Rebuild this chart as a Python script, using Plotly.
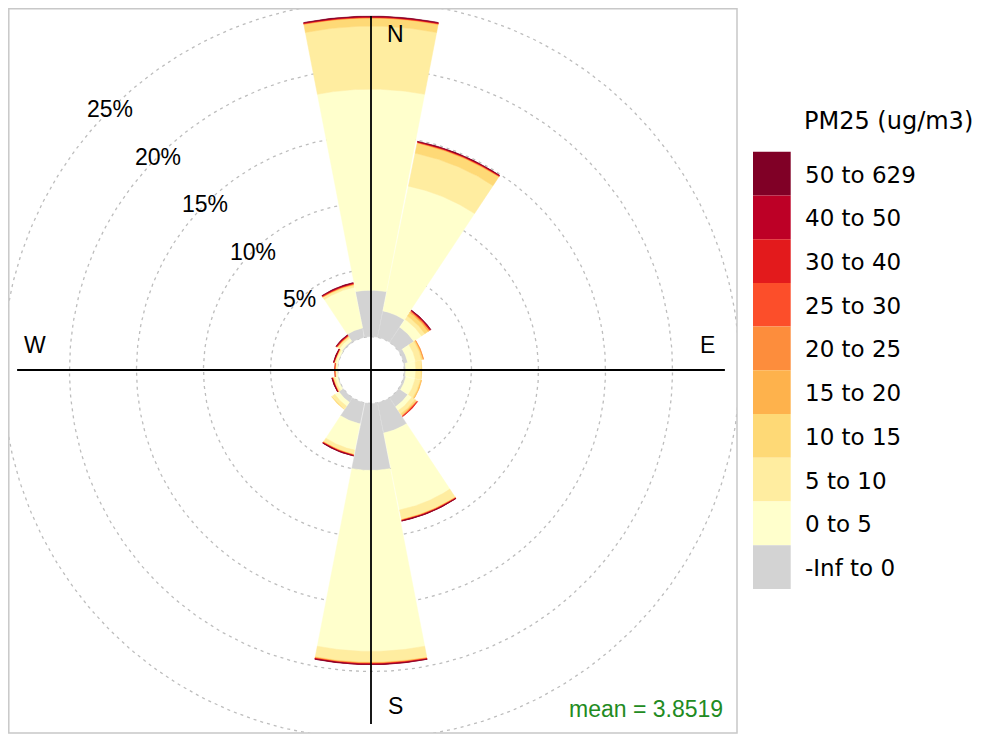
import numpy as np
import plotly.graph_objects as go

# ---------------- data ----------------
directions = [0, 22.5, 45, 67.5, 90, 112.5, 135, 157.5, 180, 202.5, 225, 247.5, 270, 292.5, 315, 337.5]
bin_labels = ["-Inf to 0", "0 to 5", "5 to 10", "10 to 15", "15 to 20", "20 to 25",
              "25 to 30", "30 to 40", "40 to 50", "50 to 629"]
bin_colors = ["#D3D3D3", "#FFFFCC", "#FFEDA0", "#FED976", "#FEB24C", "#FD8D3C",
              "#FC4E2A", "#E31A1C", "#BD0026", "#800026"]

# frequency (%) per direction (N, NNE, ..., NNW) for each concentration bin
freq_neg   = [3.46, 2.00, 1.35, 0.30, 0.10, 0.15, 0.80, 2.30, 5.00, 1.60, 0.40, 0.05, 0.02, 0.03, 0.10, 0.70]
freq_0_5   = [15.0, 9.50, 0.70, 0.60, 0.75, 0.70, 0.35, 5.86, 13.5, 2.00, 0.35, 0.18, 0.10, 0.14, 0.25, 3.10]
freq_5_10  = [4.70, 2.50, 0.30, 0.45, 0.40, 0.40, 0.30, 0.70, 0.80, 0.30, 0.25, 0.12, 0.06, 0.08, 0.12, 0.15]
freq_10_15 = [0.60, 0.75, 0.30, 0.10, 0.05, 0.08, 0.10, 0.03, 0.05, 0.03, 0.05, 0.04, 0.02, 0.03, 0.05, 0.05]
freq_15_20 = [0.03, 0.04, 0.08, 0.03, 0.00, 0.02, 0.05, 0.02, 0.03, 0.02, 0.00, 0.02, 0.01, 0.02, 0.02, 0.03]
freq_20_25 = [0.02, 0.03, 0.04, 0.02, 0.00, 0.00, 0.04, 0.02, 0.03, 0.02, 0.00, 0.02, 0.00, 0.01, 0.02, 0.02]
freq_25_30 = [0.02, 0.02, 0.03, 0.00, 0.00, 0.00, 0.03, 0.02, 0.02, 0.02, 0.00, 0.01, 0.00, 0.01, 0.02, 0.02]
freq_30_40 = [0.03, 0.03, 0.04, 0.00, 0.00, 0.00, 0.03, 0.03, 0.03, 0.02, 0.00, 0.02, 0.01, 0.01, 0.03, 0.03]
freq_40_50 = [0.02, 0.02, 0.03, 0.00, 0.00, 0.00, 0.00, 0.01, 0.02, 0.02, 0.00, 0.01, 0.00, 0.01, 0.03, 0.03]
freq_50_up = [0.03, 0.02, 0.02, 0.00, 0.00, 0.00, 0.00, 0.01, 0.01, 0.01, 0.00, 0.01, 0.00, 0.01, 0.02, 0.02]

grid_pcts = [5, 10, 15, 20, 25]
grid_labels = ["5%", "10%", "15%", "20%", "25%"]
mean_label = "mean = 3.8519"
legend_title = "PM25 (ug/m3)"

all_bins = [freq_neg, freq_0_5, freq_5_10, freq_10_15, freq_15_20, freq_20_25,
            freq_25_30, freq_30_40, freq_40_50, freq_50_up]

# ---------------- geometry / style ----------------
PAGE_OFF = 8                                  # browser body margin
W, H = 981 - PAGE_OFF, 735 - PAGE_OFF
# target positions in screen pixels
S_L, S_R, S_T, S_B = 7, 737, 5, 733           # panel
S_CX, S_CY = 371, 370                         # centre
SCALE = 13.4                                  # pixels per %
OFFSET = 2.5                                  # hole (in % units)
HALF_W = 11.0                                 # half sector width, degrees

# plot area in figure pixels
F_L, F_T = 0, 0
F_R, F_B = S_R - PAGE_OFF, S_B - PAGE_OFF
F_CX, F_CY = S_CX - PAGE_OFF, S_CY - PAGE_OFF

x_rng = [-(F_CX - F_L) / SCALE, (F_R - F_CX) / SCALE]
y_rng = [-(F_B - F_CY) / SCALE, (F_CY - F_T) / SCALE]

fig = go.Figure()

# grid circles (hole + percentage rings), below bars
t = np.linspace(0, 2 * np.pi, 400)
for p in [0] + grid_pcts:
    r = p + OFFSET
    fig.add_trace(go.Scatter(x=r * np.sin(t), y=r * np.cos(t), mode="lines",
                             line=dict(color="#BDBDBD", width=1.3, dash="3px,4px"),
                             hoverinfo="skip", showlegend=False))

# stacked sectors
arr = np.array(all_bins)            # (bins, dirs)
cum = np.cumsum(arr, axis=0)
for bi in range(arr.shape[0]):
    xs, ys = [], []
    for di, d in enumerate(directions):
        v = arr[bi, di]
        if v <= 0:
            continue
        r_out = OFFSET + cum[bi, di]
        r_in = r_out - v
        th = np.radians(np.linspace(d - HALF_W, d + HALF_W, 40))
        px = np.concatenate([r_out * np.sin(th), r_in * np.sin(th[::-1]), [r_out * np.sin(th[0])]])
        py = np.concatenate([r_out * np.cos(th), r_in * np.cos(th[::-1]), [r_out * np.cos(th[0])]])
        xs += list(px) + [None]
        ys += list(py) + [None]
    fig.add_trace(go.Scatter(x=xs, y=ys, mode="lines", fill="toself",
                             fillcolor=bin_colors[bi],
                             line=dict(color=bin_colors[bi], width=0.5),
                             hoverinfo="skip", showlegend=False))

# axis cross
upper = OFFSET + cum[-1].max()
fig.add_trace(go.Scatter(x=[-upper, upper, None, 0, 0], y=[0, 0, None, -upper, upper],
                         mode="lines", line=dict(color="black", width=1.8),
                         hoverinfo="skip", showlegend=False))

panel_font = dict(family="Liberation Sans, Arial", size=23, color="black")
ann = []
for lab, (ax, ay) in zip(["N", "E", "S", "W"],
                         [(0.07, 0.95), (0.95, 0.07), (0.07, -0.95), (-0.95, 0.07)]):
    ann.append(dict(x=ax * upper, y=ay * upper, text=lab, showarrow=False,
                    xref="x", yref="y", font=panel_font))
for p, lab in zip(grid_pcts, grid_labels):
    r = p + OFFSET
    ann.append(dict(x=-r * np.sin(np.pi / 4), y=r * np.cos(np.pi / 4), text=lab,
                    showarrow=False, xref="x", yref="y", font=panel_font))
ann.append(dict(x=upper, y=-upper, text=mean_label, showarrow=False, xref="x", yref="y",
                xanchor="right", yanchor="bottom",
                font=dict(family="Liberation Sans, Arial", size=23, color="#228B22")))

# legend (drawn manually); positions given in screen pixels
def px2paper(sx, sy):
    fx, fy = sx - PAGE_OFF, sy - PAGE_OFF
    return (fx - F_L) / (F_R - F_L), 1 - (fy - F_T) / (F_B - F_T)

shapes = []
key_x0, key_x1 = 753, 790.7
key_top, key_h = 151.7, 43.73
leg_font = dict(family="DejaVu Sans", size=23, color="black")
for k, bi in enumerate(range(len(bin_labels) - 1, -1, -1)):
    y0 = key_top + k * key_h
    xa, ya = px2paper(key_x0, y0)
    xb, yb = px2paper(key_x1, y0 + key_h)
    shapes.append(dict(type="rect", xref="paper", yref="paper", x0=xa, x1=xb, y0=yb, y1=ya,
                       fillcolor=bin_colors[bi], line=dict(width=0), layer="above"))
    tx, ty = px2paper(803, y0 + key_h / 2 + 1)
    ann.append(dict(x=tx, y=ty, xref="paper", yref="paper", text=bin_labels[bi],
                    showarrow=False, xanchor="left", yanchor="middle", font=leg_font))
tx, ty = px2paper(802, 121)
ann.append(dict(x=tx, y=ty, xref="paper", yref="paper", text=legend_title,
                showarrow=False, xanchor="left", yanchor="middle",
                font=dict(family="DejaVu Sans", size=24, color="black")))

# panel border (top/left edges sit at the very edge of the figure)
bx0, by1 = px2paper(PAGE_OFF + 0.8, PAGE_OFF + 0.8)
bx1, by0 = px2paper(S_R, S_B)
shapes.append(dict(type="rect", xref="paper", yref="paper", x0=bx0, x1=bx1, y0=by0, y1=by1,
                   line=dict(color="#C8C8C8", width=1.5), layer="above"))

fig.update_layout(
    width=W, height=H,
    margin=dict(l=F_L, r=W - F_R, t=F_T, b=H - F_B, pad=0),
    paper_bgcolor="white", plot_bgcolor="white",
    xaxis=dict(range=x_rng, visible=False, fixedrange=True),
    yaxis=dict(range=y_rng, visible=False, fixedrange=True),
    showlegend=False,
    annotations=ann, shapes=shapes,
)

fig.write_html("out.html")
